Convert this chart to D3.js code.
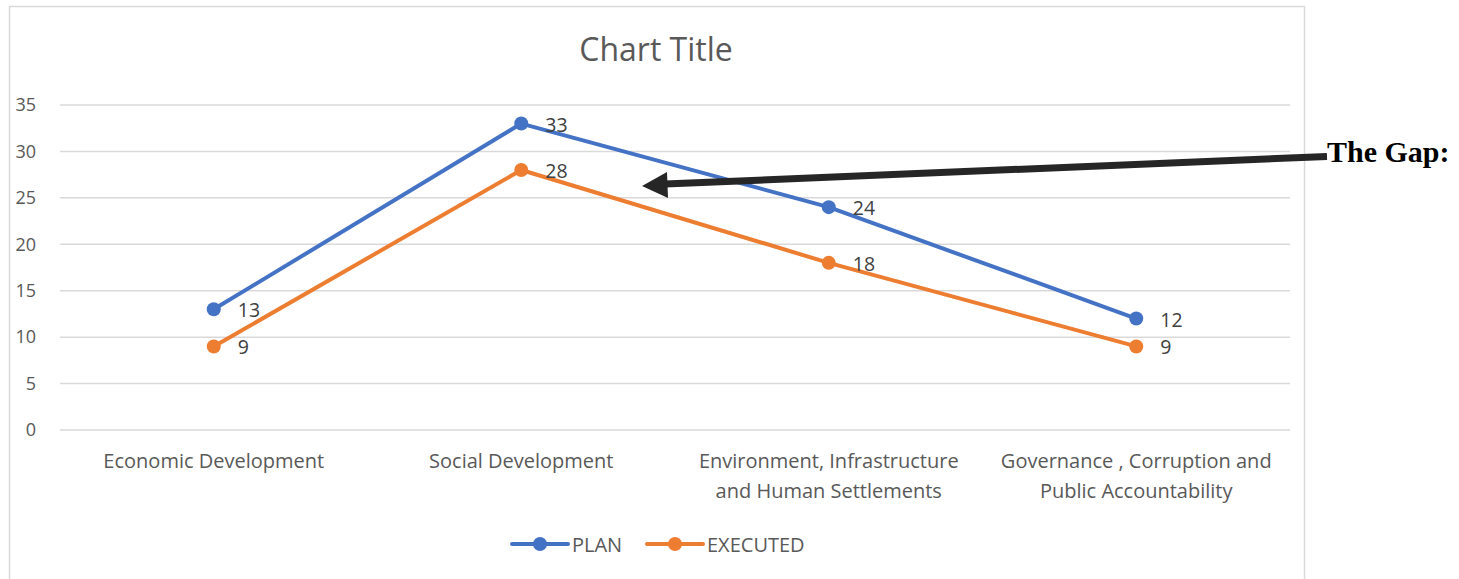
<!DOCTYPE html>
<html>
<head>
<meta charset="utf-8">
<script src="https://cdn.jsdelivr.net/npm/d3@7"></script>
<style>
  body { margin: 0; background: #fff; }
  svg { display: block; }
</style>
</head>
<body>
<div id="chart"></div>
<script>
// --------------- Data ---------------
const categories = [
  ["Economic Development"],
  ["Social Development"],
  ["Environment, Infrastructure", "and Human Settlements"],
  ["Governance , Corruption and", "Public Accountability"]
];
const planValues = [13, 33, 24, 12];
const executedValues = [9, 28, 18, 9];
const yTicks = [0, 5, 10, 15, 20, 25, 30, 35];

const series = [
  { name: "PLAN", values: planValues, color: "#4472C4" },
  { name: "EXECUTED", values: executedValues, color: "#ED7D31" }
];

// --------------- Constants ---------------
const WIDTH = 1459;
const HEIGHT = 579;
const FONT = "'Open Sans', 'Liberation Sans', sans-serif";
const TEXT_COLOR = "#595959";
const GRID_COLOR = "#d9d9d9";

const svg = d3.select("#chart")
  .append("svg")
  .attr("width", WIDTH)
  .attr("height", HEIGHT);

// chart frame
svg.append("rect")
  .attr("x", 9.5).attr("y", 6.5)
  .attr("width", 1295).attr("height", 600)
  .attr("fill", "#fff")
  .attr("stroke", GRID_COLOR)
  .attr("stroke-width", 1.5);

svg.append("text")
  .attr("x", 656).attr("y", 61)
  .attr("text-anchor", "middle")
  .attr("font-family", FONT)
  .attr("font-size", 32)
  .attr("fill", TEXT_COLOR)
  .text("Chart Title");

const x = d3.scaleBand()
  .domain(d3.range(categories.length))
  .range([60, 1290]);

const y = d3.scaleLinear()
  .domain([0, 35])
  .range([430, 105]);

// gridlines
svg.append("g")
  .selectAll("line")
  .data(yTicks)
  .join("line")
  .attr("x1", 60).attr("x2", 1290)
  .attr("y1", d => y(d)).attr("y2", d => y(d))
  .attr("stroke", GRID_COLOR)
  .attr("stroke-width", 1.5);

// y axis labels
const yAxis = svg.append("g")
  .attr("transform", "translate(36,0)")
  .call(d3.axisLeft(y).tickValues(yTicks).tickSize(0).tickPadding(0));
yAxis.select(".domain").remove();
yAxis.selectAll("text")
  .attr("font-family", FONT)
  .attr("font-size", 18)
  .attr("fill", TEXT_COLOR);

// x axis labels
const xLabels = svg.append("g")
  .selectAll("text")
  .data(categories)
  .join("text")
  .attr("x", (d, i) => x(i) + x.bandwidth() / 2)
  .attr("y", 468)
  .attr("text-anchor", "middle")
  .attr("font-family", FONT)
  .attr("font-size", 20)
  .attr("fill", TEXT_COLOR);
xLabels.selectAll("tspan")
  .data(d => d)
  .join("tspan")
  .attr("x", function () { return this.parentNode.getAttribute("x"); })
  .attr("dy", (d, i) => i === 0 ? 0 : 30)
  .text(d => d);

const cx = i => x(i) + x.bandwidth() / 2;
const line = d3.line()
  .x((d, i) => cx(i))
  .y(d => y(d));

series.forEach(s => {
  const g = svg.append("g");
  g.append("path")
    .datum(s.values)
    .attr("d", line)
    .attr("fill", "none")
    .attr("stroke", s.color)
    .attr("stroke-width", 4)
    .attr("stroke-linejoin", "round");
  g.selectAll("circle")
    .data(s.values)
    .join("circle")
    .attr("cx", (d, i) => cx(i))
    .attr("cy", d => y(d))
    .attr("r", 7)
    .attr("fill", s.color);
  g.selectAll("text")
    .data(s.values)
    .join("text")
    .attr("x", (d, i) => cx(i) + 24)
    .attr("y", d => y(d) + 8)
    .attr("font-family", FONT)
    .attr("font-size", 19.5)
    .attr("fill", "#404040")
    .text(d => d);
});

// legend
const legend = svg.append("g")
  .selectAll("g")
  .data(series)
  .join("g")
  .attr("transform", (d, i) => `translate(${512 + i * 135},544)`);
legend.append("line")
  .attr("x1", 0).attr("x2", 56)
  .attr("stroke", d => d.color)
  .attr("stroke-width", 4)
  .attr("stroke-linecap", "round");
legend.append("circle")
  .attr("cx", 28).attr("r", 7)
  .attr("fill", d => d.color);
legend.append("text")
  .attr("x", 60).attr("y", 7.5)
  .attr("font-family", FONT)
  .attr("font-size", 20)
  .attr("fill", TEXT_COLOR)
  .text(d => d.name);

// annotation arrow
svg.append("line")
  .attr("x1", 1327).attr("y1", 156.5)
  .attr("x2", 665).attr("y2", 184)
  .attr("stroke", "#262626")
  .attr("stroke-width", 7);
svg.append("polygon")
  .attr("points", "642,186 667,172 668,198")
  .attr("fill", "#262626");

svg.append("text")
  .attr("x", 1327).attr("y", 162)
  .attr("font-family", "'Liberation Serif', 'Times New Roman', serif")
  .attr("font-weight", "bold")
  .attr("font-size", 30)
  .attr("fill", "#000")
  .text("The Gap:");
</script>
</body>
</html>
